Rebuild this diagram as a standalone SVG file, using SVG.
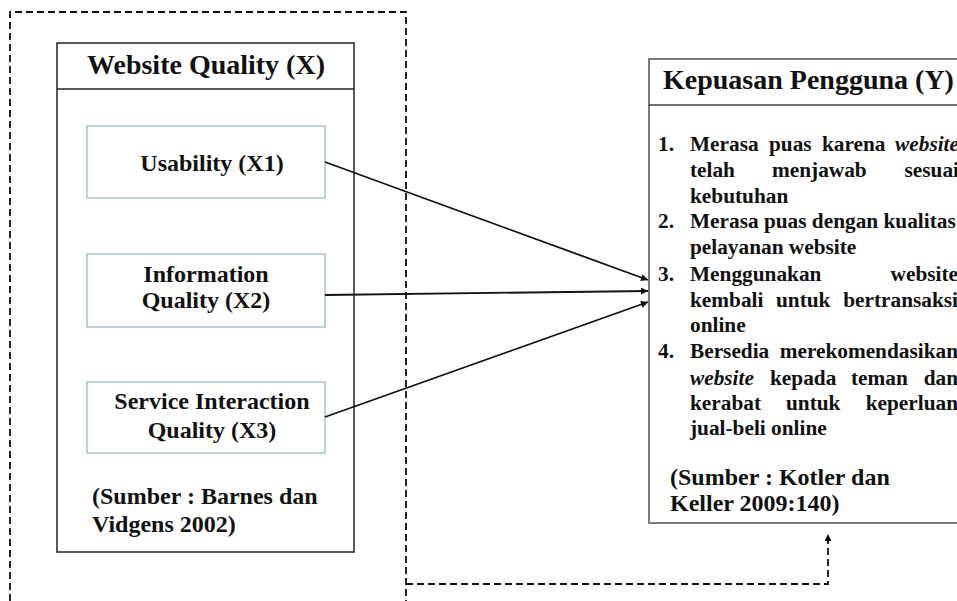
<svg xmlns="http://www.w3.org/2000/svg" width="957" height="601" viewBox="0 0 957 601">
<defs>
<style>
text{font-family:"Liberation Serif","Times New Roman",serif;font-weight:bold;fill:#111}
.h{font-size:28px}
.m{font-size:24px}
.l{font-size:21.3px}
.i{font-style:italic}
.c{text-anchor:middle}
.e{text-anchor:end}
.sub{fill:#fff;stroke:#a9c2ca;stroke-width:1.5}
.dash{fill:none;stroke:#111;stroke-width:1.8;stroke-dasharray:7 4}
.conn{fill:none;stroke:#111;stroke-width:1.8}
</style>
<marker id="ah" viewBox="0 0 10 10" refX="10" refY="5" markerWidth="9" markerHeight="7" markerUnits="userSpaceOnUse" orient="auto">
<path d="M0,0 L10,5 L0,10 z" fill="#111"/>
</marker>
</defs>
<rect width="957" height="601" fill="#fff"/>
<g id="frame">
<path class="dash" d="M10,601 V12 H406 V601"/>
</g>
<g id="website-quality">
<rect x="57" y="43" width="297" height="509" fill="none" stroke="#222" stroke-width="1.5"/>
<line x1="57" y1="89" x2="354" y2="89" stroke="#222" stroke-width="1.5"/>
<text class="h c" x="206" y="74">Website Quality (X)</text>
<text class="m" x="92" y="504">(Sumber : Barnes dan</text>
<text class="m" x="92" y="532">Vidgens 2002)</text>
</g>
<g id="usability">
<rect class="sub" x="87" y="126" width="238" height="72"/>
<text class="m c" x="212" y="171">Usability (X1)</text>
</g>
<g id="information-quality">
<rect class="sub" x="87" y="254" width="238" height="73"/>
<text class="m c" x="206" y="282">Information</text>
<text class="m c" x="206" y="308">Quality (X2)</text>
</g>
<g id="service-interaction-quality">
<rect class="sub" x="87" y="382" width="238" height="71"/>
<text class="m c" x="212" y="409">Service Interaction</text>
<text class="m c" x="212" y="438">Quality (X3)</text>
</g>
<g id="kepuasan-pengguna">
<rect x="649" y="59" width="320" height="464" fill="none" stroke="#7a7a7a" stroke-width="2"/>
<line x1="649" y1="105" x2="969" y2="105" stroke="#444" stroke-width="1.5"/>
<text class="h" x="663" y="89">Kepuasan Pengguna (Y)</text>
<text class="l" x="658" y="151">1.</text>
<text class="l" x="690" y="151">Merasa</text>
<text class="l" x="769" y="151">puas</text>
<text class="l" x="822" y="151">karena</text>
<text class="l i e" x="959" y="151">website</text>
<text class="l" x="690" y="177">telah</text>
<text class="l" x="772" y="177">menjawab</text>
<text class="l e" x="959" y="177">sesuai</text>
<text class="l" x="690" y="203">kebutuhan</text>
<text class="l" x="658" y="228">2.</text>
<text class="l" x="690" y="228">Merasa puas dengan kualitas</text>
<text class="l" x="690" y="254">pelayanan website</text>
<text class="l" x="658" y="281">3.</text>
<text class="l" x="690" y="281">Menggunakan</text>
<text class="l e" x="958" y="281">website</text>
<text class="l" x="690" y="307">kembali</text>
<text class="l" x="776" y="307">untuk</text>
<text class="l e" x="958" y="307">bertransaksi</text>
<text class="l" x="690" y="332">online</text>
<text class="l" x="658" y="358">4.</text>
<text class="l" x="690" y="358">Bersedia</text>
<text class="l e" x="958" y="358">merekomendasikan</text>
<text class="l i" x="690" y="385">website</text>
<text class="l" x="770" y="385">kepada</text>
<text class="l" x="851" y="385">teman</text>
<text class="l e" x="958" y="385">dan</text>
<text class="l" x="690" y="410">kerabat</text>
<text class="l" x="786" y="410">untuk</text>
<text class="l e" x="958" y="410">keperluan</text>
<text class="l" x="690" y="435">jual-beli online</text>
<text class="m" x="670" y="485">(Sumber : Kotler dan</text>
<text class="m" x="670" y="511">Keller 2009:140)</text>
</g>
<g id="connectors">
<line class="conn" x1="325" y1="162" x2="648" y2="280" marker-end="url(#ah)"/>
<line class="conn" x1="325" y1="295" x2="648" y2="291" marker-end="url(#ah)"/>
<line class="conn" x1="325" y1="417" x2="648" y2="302" marker-end="url(#ah)"/>
<path class="dash" d="M406,584 H828 V534" marker-end="url(#ah)"/>
</g>
</svg>
